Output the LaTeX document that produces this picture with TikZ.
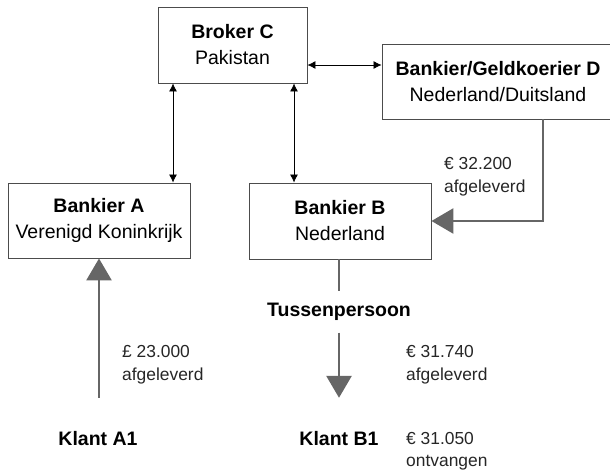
\documentclass[tikz,border=0pt]{standalone}
\usepackage{fontspec}
\setmainfont{Liberation Sans}
\usepackage{tikz}
\usetikzlibrary{arrows.meta}

\tikzset{
  box/.style = {draw=black!70, line width=0.9pt, align=center, inner sep=0pt,
                font=\fontsize{19.5}{26}\selectfont},
  person/.style = {inner sep=0pt, minimum height=82pt,
                   font=\fontsize{19.5}{23}\selectfont\bfseries},
  amount/.style = {anchor=west, align=left, inner sep=0pt, text=black!85,
                   font=\fontsize{17.4}{22.5}\selectfont},
  link/.style = {line width=0.8pt, {Latex[length=8pt,width=8pt]}-{Latex[length=8pt,width=8pt]}},
  flow/.style = {line width=2.8pt, black!60, -{Triangle[length=22pt,width=25pt]}}
}

\begin{document}
\begin{tikzpicture}[x=1pt, y=-1pt]
      \useasboundingbox (0,0) rectangle (610,471);
      % Boxes
      \node[box, minimum width=149pt, minimum height=76pt] (brokerC) at (232.5,45)
           {\textbf{Broker C}\\Pakistan};
      \node[box, minimum width=182pt, minimum height=75pt] (bankA) at (99,220.5)
           {\textbf{Bankier A}\\Verenigd Koninkrijk};
      \node[box, minimum width=182pt, minimum height=76pt] (bankB) at (340,221)
           {\textbf{Bankier B}\\Nederland};
      \node[box, minimum width=232pt, minimum height=75pt] (bankD) at (498,81.5)
           {\textbf{Bankier/Geldkoerier D}\\Nederland/Duitsland};
      % Persons
      \node[person] (klantA1) at (98,439) {Klant A1};
      \node[person] (klantB1) at (339,439) {Klant B1};
      \node[person, minimum height=41pt] (tussen) at (339,312) {Tussenpersoon};
      % Amounts
      \node[amount] (amountA) at (122,364.5) {£ 23.000\\afgeleverd};
      \node[amount] (amountB) at (406,364.5) {€ 31.740\\afgeleverd};
      \node[amount] (amountB1) at (406,451) {€ 31.050\\ontvangen};
      \node[amount] (amountD) at (444,176.5) {€ 32.200\\afgeleverd};
      % Links with the broker
      \coordinate (xa) at (173,0);
      \coordinate (xb) at (294,0);
      \coordinate (yd) at (0,65);
      \draw[link] (brokerC.south -| xa) -- (bankA.north -| xa);
      \draw[link] (brokerC.south -| xb) -- (bankB.north -| xb);
      \draw[link] (brokerC.east |- yd) -- (bankD.west |- yd);
      % Money flows
      \coordinate (xd) at (543,0);
      \draw[flow] (bankD.south -| xd) |- (bankB.east);
      \draw[flow] (klantA1.north -| bankA.south) -- (bankA.south);
      \draw[line width=2.8pt, black!60] (bankB.south -| tussen.north) -- (tussen.north);
      \draw[flow] (tussen.south) -- (klantB1.north);
\end{tikzpicture}
\end{document}
